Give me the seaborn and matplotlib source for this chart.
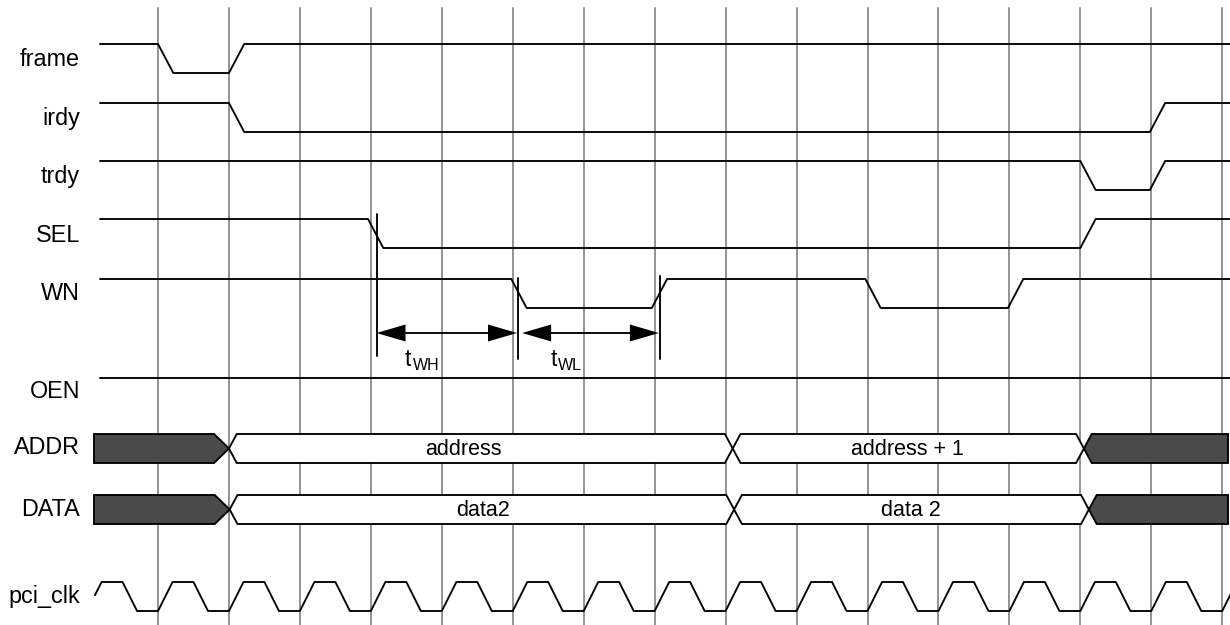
import numpy as np
import matplotlib
matplotlib.use("Agg")
import matplotlib.pyplot as plt
import seaborn as sns

# ---------------- data (times in clock periods; grid line k sits at t = k) ----------------
signal_names = ["frame", "irdy", "trdy", "SEL", "WN", "OEN"]
signal_initial = [1, 1, 1, 1, 1, 1]
frame_edges = [0.0, 1.0]
irdy_edges = [1.0, 13.98]
trdy_edges = [13.0, 13.98]
sel_edges = [2.96, 13.0]
wn_edges = [4.98, 6.96, 9.97, 11.98]
oen_edges = []

bus_names = ["ADDR", "DATA"]
addr_crossings = [1.0, 8.10, 13.05]
addr_values = ["", "address", "address + 1", ""]
addr_valid = [False, True, True, False]
data_crossings = [1.01, 8.12, 13.12]
data_values = ["", "data2", "data 2", ""]
data_valid = [False, True, True, False]

clock_name = "pci_clk"
clock_first_cycle = -1
clock_last_cycle = 15
clock_rise_end = 0.205
clock_high_end = 0.50
clock_fall_end = 0.705

marker_times = [3.08, 5.07, 7.08]
timing_subscripts = ["WH", "WL"]

# ---------------- layout helpers (pixel geometry of the sheet) ----------------
PX_PER_T = 70.95
X0 = 158.0


def tx(px):
    return (px - X0) / PX_PER_T


AMP = 29.0
SLOPE = tx(X0 + 15.3)
row_high = [44, 103, 161, 219, 279, 378]
row_label_y = [60, 118, 177, 235, 294, 392]
bus_top = [434, 495]
bus_label_y = [448, 510]
clk_high = 582
clk_label_y = 597
LABEL_X = tx(80)
SIG_START = tx(100)
BUS_START = tx(94)
BUS_END = tx(1228)
RIGHT = tx(1230)
CH = 0.11
DARK = "#4a4a4a"
LW = 1.35

sns.set_theme(style="white")
plt.rcParams["font.family"] = ["Liberation Sans", "DejaVu Sans"]

fig = plt.figure(figsize=(12.3, 6.25), dpi=100)
ax = fig.add_axes([0, 0, 1, 1])
ax.set_xlim(tx(0), RIGHT)
ax.set_ylim(625, 0)
ax.set_axis_off()

# grid lines (one per clock rising edge)
for k in range(0, 16):
    ax.plot([k, k], [8, 625], color="#939393", lw=1.4, zorder=1)


def wave(edges, init, high):
    lvl = init
    xs, ys = [SIG_START], [lvl]
    for e in edges:
        xs += [e, e + SLOPE]
        ys += [lvl, 1 - lvl]
        lvl = 1 - lvl
    xs.append(RIGHT + 0.2)
    ys.append(lvl)
    ys = [high + (1 - v) * AMP for v in ys]
    return np.array(xs), np.array(ys)


all_edges = [frame_edges, irdy_edges, trdy_edges, sel_edges, wn_edges, oen_edges]
for name, edges, init, hy, ly in zip(signal_names, all_edges, signal_initial, row_high, row_label_y):
    xs, ys = wave(edges, init, hy)
    sns.lineplot(x=xs, y=ys, ax=ax, color="black", linewidth=LW, sort=False,
                 estimator=None, legend=False, zorder=3)
    ax.text(LABEL_X, ly, name, ha="right", va="center", fontsize=16.8, color="black")


# buses
def draw_bus(crossings, values, valid, top, label_y, name, label_pos):
    bounds = [BUS_START] + list(crossings) + [BUS_END]
    mid = top + AMP / 2
    bot = top + AMP
    for i in range(len(values)):
        a, b = bounds[i], bounds[i + 1]
        cl = 0 if i == 0 else CH
        cr = 0 if i == len(values) - 1 else (0.21 if not valid[i] else CH)
        px = [a, a + cl, b - cr, b, b - cr, a + cl]
        py = [mid, top, top, mid, bot, bot]
        if cl == 0:
            px = [a, a, b - cr, b, b - cr, a]
            py = [bot, top, top, mid, bot, bot]
        if cr == 0:
            px = [a, a + cl, b, b, a + cl] if cl else [a, a, b, b]
            py = [mid, top, top, bot, bot] if cl else [bot, top, top, bot]
        ax.fill(px, py, facecolor=DARK if not valid[i] else "white",
                edgecolor="black", lw=LW, zorder=2, joinstyle="miter")
        if values[i]:
            ax.text(label_pos[i], mid + 1, values[i], ha="center", va="center",
                    fontsize=15.5, color="black", zorder=4)
    ax.text(LABEL_X, label_y, name, ha="right", va="center", fontsize=16.8, color="black")


draw_bus(addr_crossings, addr_values, addr_valid, bus_top[0], bus_label_y[0], bus_names[0],
         [0, tx(463), tx(907), 0])
draw_bus(data_crossings, data_values, data_valid, bus_top[1], bus_label_y[1], bus_names[1],
         [0, tx(483), tx(911), 0])

# clock
cx, cy = [], []
for k in range(clock_first_cycle, clock_last_cycle + 1):
    cx += [k, k + clock_rise_end, k + clock_high_end, k + clock_fall_end]
    cy += [1, 0, 0, 1]
cx.append(clock_last_cycle + 1)
cy.append(1)
cx = np.array(cx, dtype=float)
cy = clk_high + np.array(cy, dtype=float) * AMP
start = tx(95)
y0 = np.interp(start, cx, cy)
keep = cx > start
cx = np.concatenate([[start], cx[keep]])
cy = np.concatenate([[y0], cy[keep]])
sns.lineplot(x=cx, y=cy, ax=ax, color="black", linewidth=LW, sort=False,
             estimator=None, legend=False, zorder=3)
ax.text(LABEL_X, clk_label_y, clock_name, ha="right", va="center", fontsize=16.8, color="black")

# timing markers
marker_spans = [(214, 356), (278, 359), (276, 359)]
for t, (ya, yb) in zip(marker_times, marker_spans):
    ax.plot([t, t], [ya, yb], color="black", lw=LW, zorder=3)

ARROW_Y = 333
HEAD_L = tx(X0 + 29)
HEAD_W = 8.5
gap = tx(X0 + 3.7)
arrow_spans = [(marker_times[0], marker_times[1] - 0.01),
               (marker_times[1] + gap + 0.01, marker_times[2] - 0.02)]
for (a, b) in arrow_spans:
    ax.plot([a + HEAD_L, b - HEAD_L], [ARROW_Y, ARROW_Y], color="black", lw=LW, zorder=3)
    ax.fill([a, a + HEAD_L, a + HEAD_L], [ARROW_Y, ARROW_Y - HEAD_W, ARROW_Y + HEAD_W],
            color="black", lw=0, zorder=3)
    ax.fill([b, b - HEAD_L, b - HEAD_L], [ARROW_Y, ARROW_Y - HEAD_W, ARROW_Y + HEAD_W],
            color="black", lw=0, zorder=3)

for sub, tpx, spx in zip(timing_subscripts, [405, 550.5], [412.5, 558]):
    ax.text(tx(tpx), 366, "t", ha="left", va="baseline", fontsize=16.5, color="black")
    ax.text(tx(spx), 369.5, sub, ha="left", va="baseline", fontsize=11.5, color="black")

fig.savefig("out.png", dpi=100, facecolor="white")
